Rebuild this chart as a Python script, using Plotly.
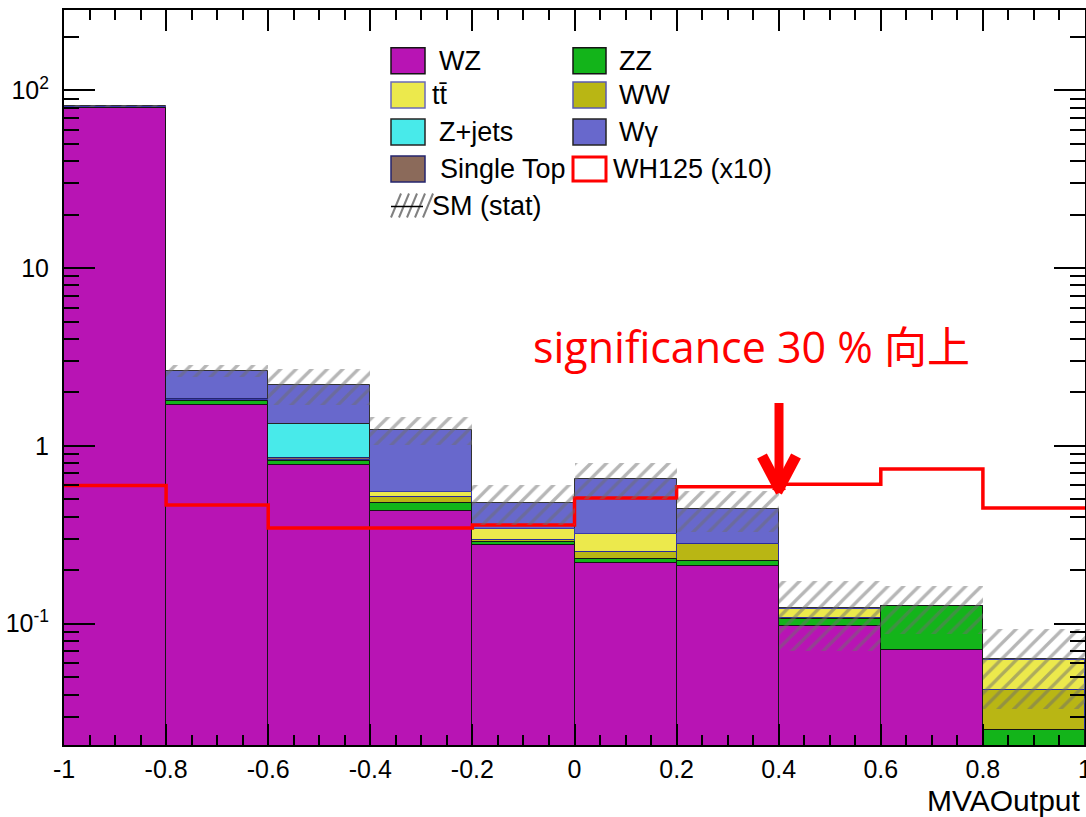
import numpy as np
import plotly.graph_objects as go

# ---------------- data ----------------
edges = [-1.0, -0.8, -0.6, -0.4, -0.2, 0.0, 0.2, 0.4, 0.6, 0.8, 1.0]
centers = [-0.9, -0.7, -0.5, -0.3, -0.1, 0.1, 0.3, 0.5, 0.7, 0.9]

wz = [79.2, 1.70, 0.782, 0.433, 0.277, 0.219, 0.211, 0.097, 0.071, 0.0]
zz = [0.8, 0.09, 0.045, 0.043, 0.012, 0.012, 0.014, 0.010, 0.055, 0.0251]
ww = [0.1, 0.01, 0.005, 0.043, 0.008, 0.021, 0.055, 0.001, 0.0, 0.0174]
ttbar = [0.1, 0.01, 0.005, 0.034, 0.046, 0.068, 0.002, 0.013, 0.0, 0.0201]
singletop = [0.05, 0.03, 0.02, 0.0, 0.0, 0.0, 0.0, 0.0, 0.0, 0.0]
zjets = [0.05, 0.0, 0.48, 0.0, 0.0, 0.0, 0.0, 0.0, 0.0, 0.0]
wgamma = [1.4, 0.81, 0.87, 0.68, 0.137, 0.33, 0.16, 0.001, 0.0, 0.0005]
sm_stat_err = [1.2, 0.22, 0.5, 0.22, 0.12, 0.15, 0.115, 0.052, 0.038, 0.03]
wh125_x10 = [0.6, 0.466, 0.346, 0.346, 0.359, 0.51, 0.59, 0.608, 0.743, 0.447]

xtick_vals = [-1, -0.8, -0.6, -0.4, -0.2, 0, 0.2, 0.4, 0.6, 0.8, 1]
xtick_text = ["-1", "-0.8", "-0.6", "-0.4", "-0.2", "0", "0.2", "0.4", "0.6", "0.8", "1"]
ytick_vals = [0.1, 1, 10, 100]
ytick_text = ["10<sup>-1</sup>", "1", "10", "10<sup>2</sup>"]

# stacking order (bottom -> top): name, values, fill, line colour
procs = [
    ("WZ", wz, "#b814b4", "#151515"),
    ("ZZ", zz, "#13b41a", "#151515"),
    ("WW", ww, "#b9b614", "#2b2b9c"),
    ("tt", ttbar, "#ece94c", "#3a3aac"),
    ("Single Top", singletop, "#8b6a5a", "#25256e"),
    ("Z+jets", zjets, "#48eaea", "#252525"),
    ("Wgamma", wgamma, "#6868cc", "#333333"),
]

cum = np.cumsum(np.array([p[1] for p in procs]), axis=0)
total = cum[-1]
err = np.array(sm_stat_err)

fig = go.Figure()

# THStack style: draw cumulative histograms from the top one down
for i in reversed(range(len(procs))):
    name, vals, fill, lc = procs[i]
    yv = [v if v > 0 else None for v in cum[i]]
    fig.add_trace(go.Bar(
        x=centers, y=yv, width=0.2,
        marker=dict(color=fill, line=dict(color=lc, width=1)),
        showlegend=False, hoverinfo="skip"))

# signal x10
fig.add_trace(go.Scatter(
    x=edges, y=wh125_x10 + [wh125_x10[-1]], mode="lines",
    line=dict(color="#ff0000", width=3.5, shape="hv"),
    showlegend=False, hoverinfo="skip"))

# SM stat hatch band (on an overlaying subplot so it is drawn on top)
fig.add_trace(go.Bar(
    x=centers, y=list(2 * err), base=list(total - err), width=0.2,
    xaxis="x2", yaxis="y2",
    marker=dict(color="rgba(0,0,0,0)", line=dict(width=0),
                pattern=dict(shape="/", fgcolor="#6e6e6e", bgcolor="rgba(0,0,0,0)",
                             size=11, solidity=0.3, fillmode="overlay")),
    showlegend=False, hoverinfo="skip"))

L, R, T, B = 64, 1085, 10, 745
YR = [-1.682, 2.452]


def px(x):
    return (x - L) / (R - L)


def py(y):
    return (B - y) / (B - T)


ymin_minor = []
for d in [0.01, 0.1, 1, 10, 100]:
    for k in range(2, 10):
        ymin_minor.append(k * d)

axfont = dict(family="Arial, Liberation Sans", size=25, color="black")

fig.update_layout(
    width=1086, height=817,
    margin=dict(l=L, r=1086 - R, t=T, b=817 - B, autoexpand=False),
    paper_bgcolor="white", plot_bgcolor="white",
    barmode="overlay", bargap=0,
    xaxis=dict(range=[-1, 1], tickmode="array", tickvals=xtick_vals, ticktext=xtick_text,
               ticks="inside", ticklen=21, tickwidth=2, tickcolor="black",
               minor=dict(dtick=0.05, tick0=-1, ticks="inside", ticklen=10, tickwidth=2,
                          tickcolor="black", showgrid=False),
               showline=True, linecolor="black", linewidth=2, mirror="allticks",
               showgrid=False, zeroline=False, tickfont=axfont, ticklabelstandoff=1,
               ticklabeloverflow="allow", automargin=False),
    yaxis=dict(type="log", range=YR, tickmode="array", tickvals=ytick_vals, ticktext=ytick_text,
               ticks="inside", ticklen=31, tickwidth=2, tickcolor="black",
               minor=dict(tickmode="array", tickvals=ymin_minor, ticks="inside", ticklen=15,
                          tickwidth=2, tickcolor="black", showgrid=False),
               showline=True, linecolor="black", linewidth=2, mirror="allticks",
               showgrid=False, zeroline=False, tickfont=axfont, ticklabelstandoff=8,
               automargin=False),
    xaxis2=dict(range=[-1, 1], overlaying="x", visible=False, anchor="y2"),
    yaxis2=dict(type="log", range=YR, overlaying="y", visible=False, anchor="x2"),
)

shapes = []
annotations = []

# x axis title
annotations.append(dict(x=px(1083), y=py(800), xref="paper", yref="paper", text="MVAOutput",
                        showarrow=False, xanchor="right", yanchor="middle",
                        font=dict(family="Arial, Liberation Sans", size=30, color="black")))

# significance text + arrow
annotations.append(dict(x=px(751), y=py(346), xref="paper", yref="paper",
                        text="significance 30 % 向上", showarrow=False,
                        xanchor="center", yanchor="middle",
                        font=dict(family="Open Sans, Noto Sans CJK JP", size=43, color="#ff0000")))
shapes.append(dict(type="line", xref="paper", yref="paper", x0=px(779), x1=px(779),
                   y0=py(403), y1=py(486), line=dict(color="#ff0000", width=9)))
shapes.append(dict(type="line", xref="paper", yref="paper", x0=px(762), x1=px(781),
                   y0=py(456), y1=py(492), line=dict(color="#ff0000", width=11)))
shapes.append(dict(type="line", xref="paper", yref="paper", x0=px(796), x1=px(777),
                   y0=py(456), y1=py(492), line=dict(color="#ff0000", width=11)))

# legend
legfont = dict(family="Arial, Liberation Sans", size=27, color="black")
rows = [60.7, 95, 132, 169, 205.5]
left_entries = [
    ("WZ", "#b814b4", "#151515", 437, rows[0]),
    ("tt\u0304", "#ece94c", "#6a6ab8", 430, rows[1]),
    ("Z+jets", "#48eaea", "#252525", 437, rows[2]),
    ("Single Top", "#8b6a5a", "#25256e", 438, rows[3]),
]
right_entries = [
    ("ZZ", "#13b41a", "#151515", 617, rows[0]),
    ("WW", "#b9b614", "#5a5ab0", 617, rows[1]),
    ("W\u03b3", "#6868cc", "#252525", 617, rows[2]),
]
for (txt, fill, lc, tx, cy) in left_entries:
    shapes.append(dict(type="rect", xref="paper", yref="paper", x0=px(391), x1=px(425),
                       y0=py(cy - 13), y1=py(cy + 13), fillcolor=fill, line=dict(color=lc, width=1.5)))
    annotations.append(dict(x=px(tx), y=py(cy), xref="paper", yref="paper", text=txt,
                            showarrow=False, xanchor="left", yanchor="middle", font=legfont))
for (txt, fill, lc, tx, cy) in right_entries:
    shapes.append(dict(type="rect", xref="paper", yref="paper", x0=px(573), x1=px(606),
                       y0=py(cy - 13), y1=py(cy + 13), fillcolor=fill, line=dict(color=lc, width=1.5)))
    annotations.append(dict(x=px(tx), y=py(cy), xref="paper", yref="paper", text=txt,
                            showarrow=False, xanchor="left", yanchor="middle", font=legfont))
# WH125 entry
shapes.append(dict(type="rect", xref="paper", yref="paper", x0=px(573), x1=px(606),
                   y0=py(rows[3] - 12), y1=py(rows[3] + 12), fillcolor="white",
                   line=dict(color="#ff0000", width=3)))
annotations.append(dict(x=px(611), y=py(rows[3]), xref="paper", yref="paper", text="WH125 (x10)",
                        showarrow=False, xanchor="left", yanchor="middle", font=legfont))
# SM (stat) entry: hatch + line
cy = rows[4]
for k in range(5):
    xa = 391 + k * 8
    shapes.append(dict(type="line", xref="paper", yref="paper", x0=px(xa), x1=px(xa + 10),
                       y0=py(cy + 12), y1=py(cy - 12), line=dict(color="#808080", width=2)))
shapes.append(dict(type="line", xref="paper", yref="paper", x0=px(391), x1=px(423),
                   y0=py(cy + 1), y1=py(cy + 1), line=dict(color="black", width=1.5)))
annotations.append(dict(x=px(430), y=py(cy), xref="paper", yref="paper", text="SM (stat)",
                        showarrow=False, xanchor="left", yanchor="middle", font=legfont))

fig.update_layout(shapes=shapes, annotations=annotations)

fig.write_html("out.html")
